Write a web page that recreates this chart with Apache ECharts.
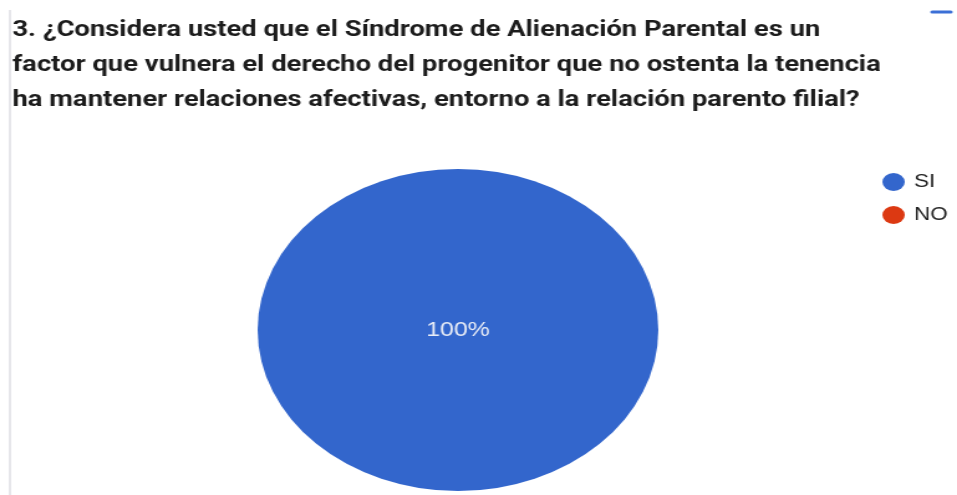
<!DOCTYPE html>
<html>
<head>
<meta charset="utf-8">
<script src="https://cdn.jsdelivr.net/npm/echarts@6/dist/echarts.min.js"></script>
<style>
  html, body { margin: 0; padding: 0; background: #fff; overflow: hidden; }
  /* the reference is a horizontally stretched screenshot, so the chart is drawn narrower and stretched */
  #chart { width: 769px; height: 495px; transform: scaleX(1.2445); transform-origin: 0 0; }
</style>
</head>
<body>
<div id="chart"></div>
<script>
const titleLines = [
  "3. ¿Considera usted que el Síndrome de Alienación Parental es un",
  "factor que vulnera el derecho del progenitor que no ostenta la tenencia",
  "ha mantener relaciones afectivas, entorno a la relación parento filial?"
]
const categories = ["SI", "NO"]
const values = [100, 0]
const colors = ["#3366cc", "#dc3912"]

const chart = echarts.init(document.getElementById("chart"))

const option = {
  animation: false,
  color: colors,
  title: {
    text: titleLines.join("\n"),
    left: 5,
    top: 8,
    textStyle: {
      fontFamily: "Roboto",
      fontWeight: "bold",
      fontSize: 22,
      lineHeight: 35,
      color: "#1c1c1c"
    }
  },
  legend: {
    orient: "vertical",
    left: 704,
    top: 168,
    itemWidth: 23,
    itemHeight: 18,
    itemGap: 15,
    icon: "path://M0,50a50,50 0 1,0 100,0a50,50 0 1,0 -100,0z",
    data: categories,
    textStyle: {
      fontFamily: "Liberation Sans",
      fontSize: 18,
      color: "#222"
    }
  },
  graphic: [
    { type: "rect", shape: { x: 7, y: 10, width: 2, height: 490 }, style: { fill: "#e6e6ea" } },
    { type: "line", shape: { x1: 749, y1: 12, x2: 764, y2: 12 }, style: { stroke: "#3b6fd6", lineWidth: 3, lineCap: "round" } }
  ],
  series: [{
    type: "pie",
    center: [368, 330],
    radius: 161,
    startAngle: 90,
    label: {
      show: true,
      position: "center",
      formatter: (p) => p.value > 0 ? p.percent + "%" : "",
      fontFamily: "Liberation Sans",
      fontSize: 20,
      padding: [4, 0, 0, 0],
      color: "#e8ecf6"
    },
    labelLine: { show: false },
    itemStyle: { borderWidth: 0 },
    emphasis: { disabled: true },
    data: categories.map((name, i) => ({ name: name, value: values[i] }))
  }]
}

chart.setOption(option)
</script>
</body>
</html>
